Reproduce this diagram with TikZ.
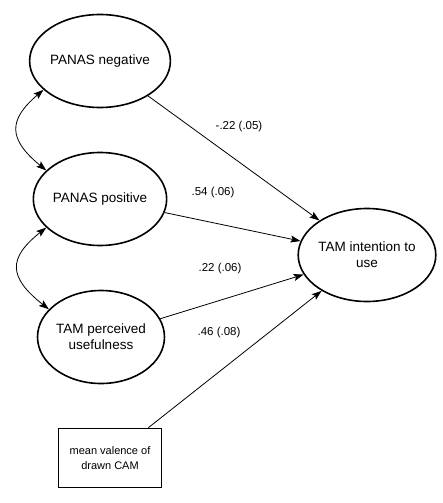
\documentclass[tikz,border=0pt]{standalone}
\usepackage{fontspec}
\setmainfont{Liberation Sans}
\usetikzlibrary{arrows.meta,shapes.geometric}

\begin{document}
\begin{tikzpicture}[x=1pt, y=-1pt,
		latent/.style={draw, ellipse, line width=1.6pt, minimum width=122pt, minimum height=93pt, inner sep=0pt, align=center, font=\fontsize{13.5}{16}\selectfont},
		observed/.style={draw, rectangle, line width=1.6pt, minimum width=103pt, minimum height=59pt, inner sep=0pt, align=center, font=\fontsize{11}{15}\selectfont},
		regpath/.style={line width=0.8pt, -{Stealth[length=10pt, width=7pt, inset=2pt]}},
		covpath/.style={line width=0.8pt, {Stealth[length=10pt, width=7pt, inset=2pt]}-{Stealth[length=10pt, width=7pt, inset=2pt]}},
		coef/.style={font=\fontsize{11.5}{13}\selectfont}]
				\useasboundingbox (0,0) rectangle (442,503);
				
				\node[latent] (panasneg) at (100,61) {PANAS negative};
				\node[latent] (panaspos) at (100,199) {PANAS positive};
				\node[latent] (tampu) at (101,337) {TAM perceived\\usefulness};
				\node[observed] (valence) at (110,458) {mean valence of\\drawn CAM};
				\node[latent] (tamint) at (367,255) {TAM intention to\\use};
				
				\draw[regpath] (panasneg) -- (tamint);
				\draw[regpath] (panaspos) -- (tamint);
				\draw[regpath] (tampu) -- (tamint);
				\draw[regpath] (valence) -- (tamint);
				
				\draw[covpath] (panasneg.207) .. controls (8,120) and (8,139) .. (panaspos.152);
				\draw[covpath] (panaspos.208) .. controls (8,258) and (8,277) .. (tampu.152);
				
				\node[coef] (cneg) at (239,127) {-.22 (.05)};
				\node[coef] (cpos) at (213,193) {.54 (.06)};
				\node[coef] (cpu) at (220,269) {.22 (.06)};
				\node[coef] (cval) at (219,333) {.46 (.08)};
			\end{tikzpicture}
\end{document}
